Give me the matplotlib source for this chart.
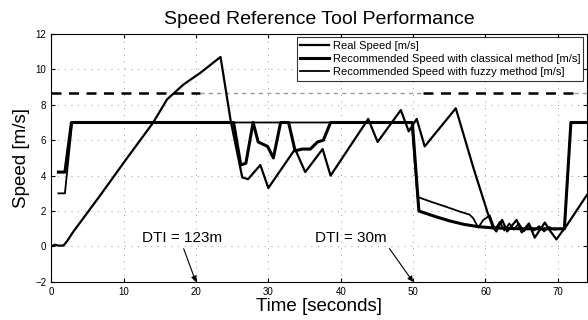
import matplotlib
matplotlib.use("Agg")
import matplotlib.pyplot as plt

plt.rcParams['font.family'] = ['Liberation Sans', 'DejaVu Sans']

# measured vehicle speed
real_t = [0, 0.5, 1.0, 1.7, 2.2, 3.0, 6.8, 10.5, 14.1, 16.0, 18.3, 20.6, 23.4,
          24.8, 26.4, 27.2, 28.9, 30.0, 33.7, 35.1, 37.5, 38.6, 43.8, 45.1,
          48.3, 49.4, 50.5, 51.6, 55.9, 58.4, 60.3, 61.0, 61.5, 62.3, 63.0,
          64.3, 65.0, 66.0, 66.8, 68.2, 68.9, 69.8, 70.5, 71.0, 74.0]
real_v = [0, 0.1, 0.05, 0.05, 0.3, 0.8, 2.9, 5.0, 7.0, 8.3, 9.15, 9.8, 10.7,
          7.1, 3.9, 3.8, 4.6, 3.3, 5.5, 4.2, 5.5, 4.0, 7.2, 5.9,
          7.7, 6.5, 7.2, 5.65, 7.8, 4.35, 1.9, 1.1, 0.85, 1.5, 0.85,
          1.5, 0.8, 1.3, 0.5, 1.35, 0.9, 0.4, 0.8, 1.05, 2.9]

# recommended speed, classical method
cls_t = [1.0, 1.9, 2.8, 25.2, 26.2, 26.9, 27.9, 28.6, 29.9, 30.7, 31.7, 32.8,
         33.7, 34.7, 35.8, 36.8, 37.6, 38.6, 49.9, 50.8, 53.0, 55.0, 57.0,
         59.0, 61.0, 65.0, 70.9, 71.8, 74.0]
cls_v = [4.2, 4.2, 7.0, 7.0, 4.6, 4.7, 7.0, 5.9, 5.65, 5.0, 7.0, 7.0,
         5.4, 5.5, 5.5, 5.9, 6.0, 7.0, 7.0, 2.0, 1.7, 1.45, 1.25,
         1.12, 1.05, 1.0, 1.0, 7.0, 7.0]

# recommended speed, fuzzy method
fz_t = [1.0, 1.9, 2.9, 49.8, 50.6, 52.3, 54.5, 56.6, 57.8, 58.3, 59.0, 59.7,
        60.6, 61.3, 62.0, 62.6, 63.3, 63.9, 64.6, 65.3, 66.0, 66.7, 67.4,
        68.1, 68.8, 69.5, 70.2, 70.9, 71.8, 74.0]
fz_v = [3.0, 3.0, 7.0, 7.0, 2.8, 2.55, 2.25, 1.95, 1.8, 1.6, 1.07, 1.5,
        1.75, 0.95, 1.4, 0.9, 1.3, 0.95, 1.3, 0.85, 1.2, 0.9, 1.15,
        0.85, 1.1, 0.95, 1.0, 1.0, 7.0, 7.0]

# speed limit and the time intervals where it is active/inactive
limit_v = 8.65
limit_bounds = [0, 20.6, 51.3, 72.2, 74]
limit_active = [True, False, True, False]

# DTI events
dti_t = [20, 50]
dti_labels = ['DTI = 123m', 'DTI = 30m']
dti_text_t = [18.1, 41.4]

fig = plt.figure(figsize=(5.88, 3.2), dpi=100)
ax = fig.add_axes([0.087, 0.119, 0.911, 0.775])

for i, active in enumerate(limit_active):
    seg = [limit_bounds[i], limit_bounds[i + 1]]
    if active:
        ax.plot(seg, [limit_v, limit_v], color='black', lw=1.8, dashes=(4, 3))
    else:
        ax.plot(seg, [limit_v, limit_v], color='#9a9a9a', lw=1.0, dashes=(3, 3))

ax.plot(real_t, real_v, color='black', lw=1.6, label='Real Speed [m/s]')
ax.plot(cls_t, cls_v, color='black', lw=2.2,
        label='Recommended Speed with classical method [m/s]')
ax.plot(fz_t, fz_v, color='black', lw=1.3,
        label='Recommended Speed with fuzzy method [m/s]')

relpos = [(0.5, 0.0), (1.0, 0.0)]
for t, lab, tt, rp in zip(dti_t, dti_labels, dti_text_t, relpos):
    ax.annotate(lab, xy=(t, -2), xytext=(tt, 0.5), ha='center', va='center',
                fontsize=11,
                arrowprops=dict(arrowstyle='-|>', color='black', lw=0.8,
                                mutation_scale=8, relpos=rp, shrinkA=1, shrinkB=0))

ax.set_xlim(0, 74)
ax.set_ylim(-2, 12)
ax.set_xticks(range(0, 71, 10))
ax.set_yticks(range(-2, 13, 2))
ax.tick_params(direction='in', length=3, labelsize=7, top=True, right=True)
ax.grid(True, linestyle=(0, (1, 7)), color='#777777', lw=0.6)

ax.set_title('Speed Reference Tool Performance', fontsize=14, pad=7)
ax.set_xlabel('Time [seconds]', fontsize=13.5, labelpad=1)
ax.set_ylabel('Speed [m/s]', fontsize=13.5, labelpad=4)

leg = ax.legend(loc='upper right', fontsize=8, frameon=True, fancybox=False,
                edgecolor='black', borderaxespad=0.3, handlelength=2.6,
                handletextpad=0.3, labelspacing=0.3, borderpad=0.3)
leg.get_frame().set_linewidth(0.8)

fig.savefig('out.png', dpi=100)
